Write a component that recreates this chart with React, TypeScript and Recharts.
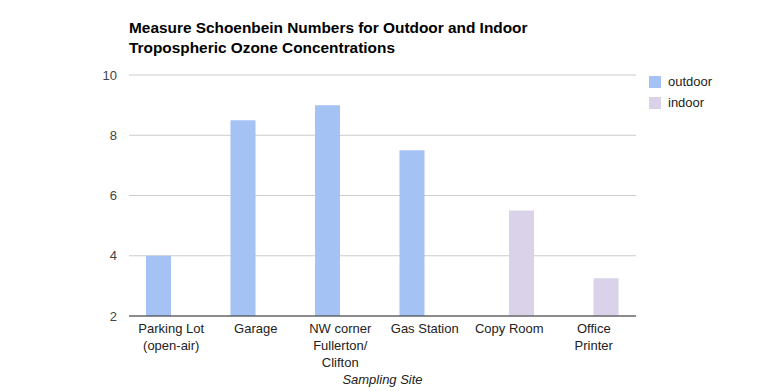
import React from "react";
import { BarChart, Bar, XAxis, YAxis, CartesianGrid } from "recharts";

// category labels, "\n" marks where the reference wraps them
const sites = [
  "Parking Lot\n(open-air)",
  "Garage",
  "NW corner\nFullerton/\nClifton",
  "Gas Station",
  "Copy Room",
  "Office\nPrinter",
];
const outdoorValues = [4, 8.5, 9, 7.5, null, null];
const indoorValues = [null, null, null, null, 5.5, 3.25];
const yTicks = [2, 4, 6, 8, 10];

const OUTDOOR = "#a4c2f4";
const INDOOR = "#d9d2e9";
const FONT = "Arial, 'Liberation Sans', sans-serif";

const data = sites.map((site, i) => ({
  site,
  outdoor: outdoorValues[i],
  indoor: indoorValues[i],
}));

function SiteTick(props: any) {
  const { x, y, payload } = props;
  const lines = String(payload.value).split("\n");
  return (
    <g>
      {lines.map((line: string, i: number) => (
        <text
          key={i}
          x={x}
          y={y + 15 + i * 17}
          textAnchor="middle"
          fontSize={13}
          fill="#222"
          fontFamily={FONT}
        >
          {line}
        </text>
      ))}
    </g>
  );
}

function LegendBox() {
  const items = [
    { label: "outdoor", color: OUTDOOR },
    { label: "indoor", color: INDOOR },
  ];
  return (
    <div style={{ position: "absolute", left: 649, top: 71, fontFamily: FONT, fontSize: 13, color: "#222" }}>
      {items.map((it) => (
        <div key={it.label} style={{ display: "flex", alignItems: "center", height: 21 }}>
          <div style={{ width: 12, height: 12, background: it.color, marginRight: 7 }} />
          <span>{it.label}</span>
        </div>
      ))}
    </div>
  );
}

export default function App() {
  return (
    <div style={{ position: "absolute", left: 0, top: 0, width: 765, height: 391, background: "#fff", fontFamily: FONT }}>
      <div
        style={{
          position: "absolute",
          left: 129,
          top: 18,
          fontSize: 15.4,
          fontWeight: "bold",
          lineHeight: "20px",
          color: "#000",
          whiteSpace: "nowrap",
        }}
      >
        Measure Schoenbein Numbers for Outdoor and Indoor
        <br />
        Tropospheric Ozone Concentrations
      </div>
      <LegendBox />
      <BarChart
        width={765}
        height={391}
        data={data}
        margin={{ top: 75, right: 129, bottom: 0, left: 0 }}
        barSize={25}
        barGap={0}
      >
        <CartesianGrid horizontal vertical={false} stroke="#ccc" />
        <XAxis
          dataKey="site"
          height={75}
          tick={<SiteTick />}
          tickLine={false}
          tickSize={0}
          axisLine={{ stroke: "#333" }}
          interval={0}
          label={{
            value: "Sampling Site",
            position: "insideBottom",
            offset: 7,
            fontSize: 13,
            fontStyle: "italic",
            fill: "#222",
            fontFamily: FONT,
          }}
        />
        <YAxis
          width={129}
          domain={[2, 10]}
          ticks={yTicks}
          axisLine={false}
          tickLine={false}
          tickSize={0}
          tickMargin={12}
          tick={{ fontSize: 13, fill: "#444", fontFamily: FONT }}
        />
        <Bar dataKey="outdoor" fill={OUTDOOR} isAnimationActive={false} />
        <Bar dataKey="indoor" fill={INDOOR} isAnimationActive={false} />
      </BarChart>
    </div>
  );
}
